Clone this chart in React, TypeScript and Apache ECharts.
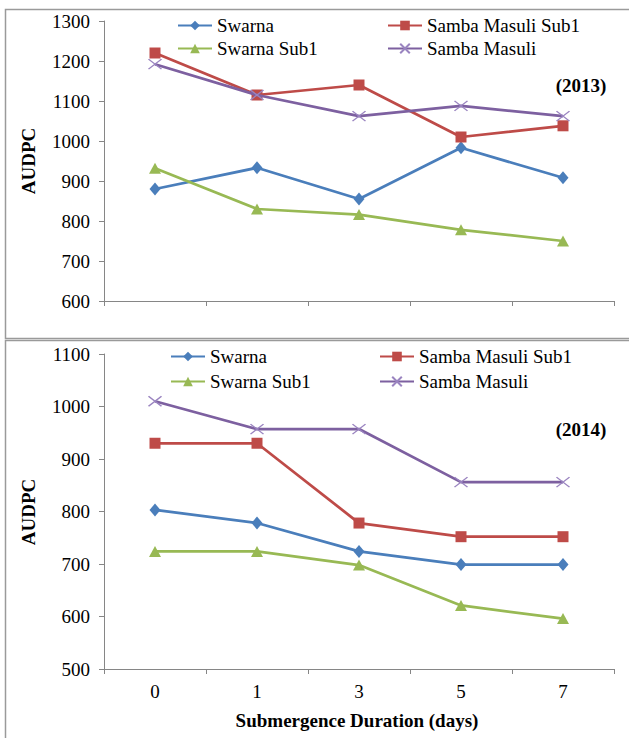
import React, { useEffect, useRef } from "react";
import * as echarts from "echarts";

const categories = ["0", "1", "3", "5", "7"];

const swarna2013 = [880, 933, 855, 983, 908];
const sambaMasuliSub1_2013 = [1220, 1115, 1140, 1010, 1038];
const swarnaSub1_2013 = [932, 830, 816, 778, 750];
const sambaMasuli2013 = [1192, 1115, 1062, 1088, 1062];

const swarna2014 = [803, 778, 724, 699, 699];
const sambaMasuliSub1_2014 = [930, 930, 778, 752, 752];
const swarnaSub1_2014 = [724, 724, 698, 621, 596];
const sambaMasuli2014 = [1010, 957, 957, 856, 856];

const seriesNames = ["Swarna", "Samba Masuli Sub1", "Swarna Sub1", "Samba Masuli"];
const colors = ["#4A7EBB", "#BE4B48", "#98B954", "#7D60A0"];
const symbols = ["diamond", "rect", "triangle", "path://M0,0L10,10M10,0L0,10"];
const symbolSizes = [[11, 13], 11, [12, 11], [13, 10]];

const FONT = "Liberation Serif";
const AXIS_COLOR = "#868686";

export default function App() {
  const ref = useRef<HTMLDivElement>(null);

  useEffect(() => {
    if (!ref.current) return;
    const chart = echarts.init(ref.current, null, { renderer: "svg" });

    const makeSeries = (idx: number, data: number[], axis: number) => {
      const isX = idx === 3;
      return {
        name: seriesNames[idx],
        type: "line",
        xAxisIndex: axis,
        yAxisIndex: axis,
        data,
        symbol: symbols[idx],
        symbolSize: symbolSizes[idx],
        lineStyle: { color: colors[idx], width: 2.75 },
        itemStyle: isX
          ? { color: "rgba(0,0,0,0)", borderColor: "#9A84C0", borderWidth: 1.3 }
          : { color: colors[idx], borderColor: colors[idx], borderWidth: 0 },
        z: 2 + idx,
      };
    };

    const legendPos = [
      { left: 177, row: 0 },
      { left: 387, row: 0 },
      { left: 177, row: 1 },
      { left: 387, row: 1 },
    ];
    const legendPos2 = [
      { left: 170, row: 0 },
      { left: 379, row: 0 },
      { left: 170, row: 1 },
      { left: 379, row: 1 },
    ];

    const legends: any[] = [];
    seriesNames.forEach((n, i) => {
      legends.push({
        data: [n],
        left: legendPos[i].left,
        top: legendPos[i].row === 0 ? 16 : 39,
        itemWidth: 34,
        itemHeight: 12,
        itemGap: 0,
        padding: 0,
        selectedMode: false,
        textStyle: { fontFamily: FONT, fontSize: 19, color: "#000" },
      });
      legends.push({
        data: [n],
        left: legendPos2[i].left,
        top: legendPos2[i].row === 0 ? 347 : 372,
        itemWidth: 34,
        itemHeight: 12,
        itemGap: 0,
        padding: 0,
        selectedMode: false,
        textStyle: { fontFamily: FONT, fontSize: 19, color: "#000" },
      });
    });

    const mkY = (grid: number, min: number, max: number) => ({
      type: "value",
      gridIndex: grid,
      min,
      max,
      interval: 100,
      axisLine: { show: true, lineStyle: { color: AXIS_COLOR, width: 1 } },
      axisTick: { show: true, length: 5, lineStyle: { color: AXIS_COLOR } },
      splitLine: { show: false },
      axisLabel: {
        fontFamily: FONT,
        fontSize: 19,
        color: "#000",
        margin: 14,
        formatter: (v: number) => String(v),
      },
    });
    const mkX = (grid: number, showLabel: boolean) => ({
      type: "category",
      gridIndex: grid,
      data: categories,
      boundaryGap: true,
      axisLine: { show: true, lineStyle: { color: AXIS_COLOR, width: 1 } },
      axisTick: { show: true, length: 5, lineStyle: { color: AXIS_COLOR } },
      splitLine: { show: false },
      axisLabel: { show: showLabel, fontFamily: FONT, fontSize: 19, color: "#000", margin: 13 },
    });

    const titleFont = `bold 19px "Liberation Serif"`;

    chart.setOption({
      animation: false,
      backgroundColor: "#fff",
      textStyle: { fontFamily: FONT },
      grid: [
        { left: 104, top: 21, width: 510, height: 280 },
        { left: 104, top: 354, width: 510, height: 315 },
      ],
      xAxis: [mkX(0, false), mkX(1, true)],
      yAxis: [mkY(0, 600, 1300), mkY(1, 500, 1100)],
      legend: legends,
      series: [
        makeSeries(0, swarna2013, 0),
        makeSeries(1, sambaMasuliSub1_2013, 0),
        makeSeries(2, swarnaSub1_2013, 0),
        makeSeries(3, sambaMasuli2013, 0),
        makeSeries(0, swarna2014, 1),
        makeSeries(1, sambaMasuliSub1_2014, 1),
        makeSeries(2, swarnaSub1_2014, 1),
        makeSeries(3, sambaMasuli2014, 1),
      ],
      graphic: [
        {
          type: "rect",
          shape: { x: 5.5, y: 9.5, width: 640, height: 329 },
          style: { fill: "none", stroke: "#9a9a9a", lineWidth: 1.5 },
          silent: true,
        },
        {
          type: "rect",
          shape: { x: 5.5, y: 340.5, width: 640, height: 410 },
          style: { fill: "none", stroke: "#9a9a9a", lineWidth: 1.5 },
          silent: true,
        },
        {
          type: "text",
          x: 28,
          y: 161,
          rotation: Math.PI / 2,
          style: { text: "AUDPC", font: titleFont, align: "center", verticalAlign: "middle", fill: "#000" },
        },
        {
          type: "text",
          x: 28,
          y: 512,
          rotation: Math.PI / 2,
          style: { text: "AUDPC", font: titleFont, align: "center", verticalAlign: "middle", fill: "#000" },
        },
        {
          type: "text",
          x: 581,
          y: 85,
          style: { text: "(2013)", font: titleFont, align: "center", verticalAlign: "middle", fill: "#000" },
        },
        {
          type: "text",
          x: 581,
          y: 429,
          style: { text: "(2014)", font: titleFont, align: "center", verticalAlign: "middle", fill: "#000" },
        },
        {
          type: "text",
          x: 357,
          y: 720,
          style: {
            text: "Submergence Duration (days)",
            font: titleFont,
            align: "center",
            verticalAlign: "middle",
            fill: "#000",
          },
        },
      ],
    });

    return () => chart.dispose();
  }, []);

  return (
    <div
      ref={ref}
      style={{ position: "absolute", left: 0, top: 0, width: 629, height: 738, background: "#fff" }}
    />
  );
}
